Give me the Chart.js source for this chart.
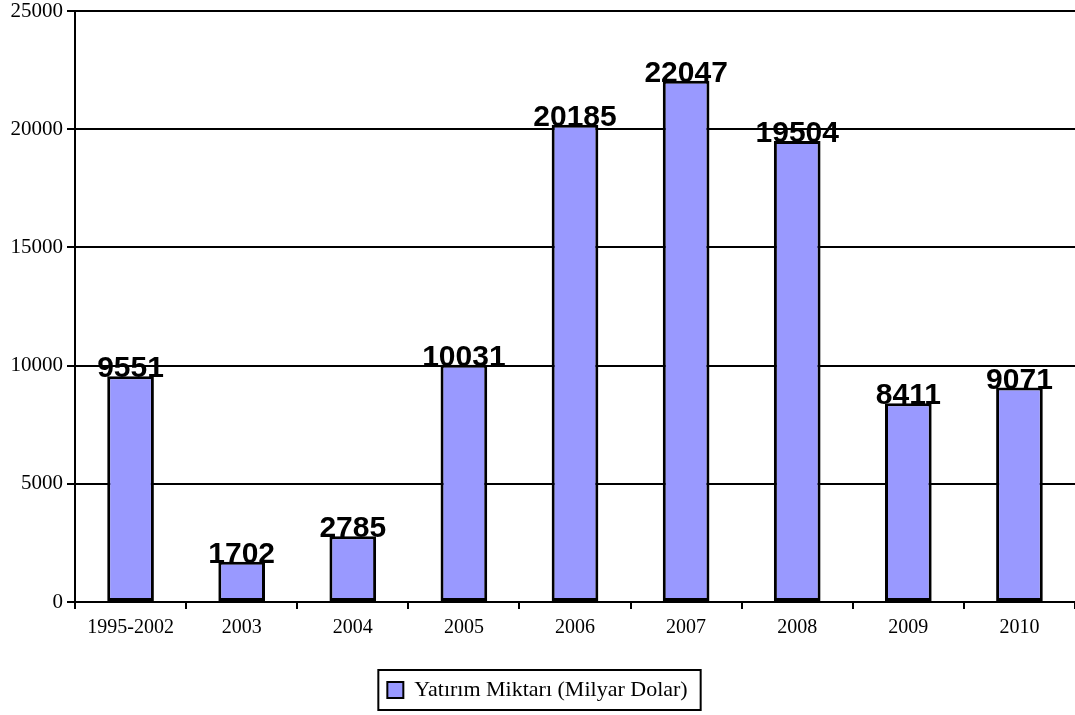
<!DOCTYPE html>
<html lang="tr">
	<head>
		<meta charset="utf-8" />
		<title>Yatırım Miktarı</title>
		<script src="https://cdn.jsdelivr.net/npm/chart.js@4"></script>
		<style>
			html, body { margin: 0; padding: 0; background: #fff; }
			#wrap { width: 1075px; height: 715px; }
		</style>
	</head>
	<body>
		<div id="wrap"><canvas id="chart"></canvas></div>
		<script>
			const years = ["1995-2002", "2003", "2004", "2005", "2006", "2007", "2008", "2009", "2010"];
			const amounts = [9551, 1702, 2785, 10031, 20185, 22047, 19504, 8411, 9071];
			const seriesName = "Yatırım Miktarı (Milyar Dolar)";

			// value labels on top of each bar
			const barLabels = {
				id: "barLabels",
				afterDatasetsDraw(chart) {
					const ctx = chart.ctx;
					const meta = chart.getDatasetMeta(0);
					ctx.save();
					ctx.font = "bold 30px 'Liberation Sans', Arial, sans-serif";
					ctx.fillStyle = "#000";
					ctx.textAlign = "center";
					ctx.textBaseline = "alphabetic";
					meta.data.forEach((bar, i) => {
						ctx.fillText(String(amounts[i]), bar.x, bar.y + 1);
					});
					ctx.restore();
				},
			};

			// box around the legend
			const legendBox = {
				id: "legendBox",
				afterDraw(chart) {
					const hb = chart.legend.legendHitBoxes[0];
					if (!hb) return;
					const ctx = chart.ctx;
					ctx.save();
					ctx.strokeStyle = "#000";
					ctx.lineWidth = 2;
					ctx.strokeRect(hb.left - 9, hb.top - 9, hb.width + 22, hb.height + 18);
					ctx.restore();
				},
			};

			new Chart(document.getElementById("chart"), {
				type: "bar",
				data: {
					labels: years,
					datasets: [
						{
							label: seriesName,
							data: amounts,
							backgroundColor: "#9999FF",
							borderColor: "#000",
							borderWidth: 3,
							borderSkipped: false,
							barPercentage: 0.42,
							categoryPercentage: 1,
						},
					],
				},
				options: {
					responsive: true,
					maintainAspectRatio: false,
					animation: false,
					layout: { padding: { top: 11, right: 0, bottom: 4, left: 0 } },
					plugins: {
						tooltip: { enabled: false },
						legend: {
							position: "bottom",
							labels: {
								color: "#000",
								font: { family: "'Liberation Serif', 'Times New Roman', serif", size: 22 },
								boxWidth: 16,
								boxHeight: 16,
								padding: 12,
								generateLabels: () => [
									{
										text: seriesName,
										fillStyle: "#9999FF",
										strokeStyle: "#000",
										lineWidth: 2,
										datasetIndex: 0,
									},
								],
							},
						},
					},
					scales: {
						x: {
							grid: {
								drawOnChartArea: false,
								color: "#000",
								lineWidth: 2,
								tickLength: 7,
							},
							border: { color: "#000", width: 2 },
							ticks: {
								color: "#000",
								font: { family: "'Liberation Serif', 'Times New Roman', serif", size: 20 },
								padding: 7,
								maxRotation: 0,
							},
							afterFit(scale) {
								scale.height = 65;
							},
						},
						y: {
							min: 0,
							max: 25000,
							ticks: {
								stepSize: 5000,
								color: "#000",
								font: { family: "'Liberation Serif', 'Times New Roman', serif", size: 21 },
								padding: 4,
								callback: (v) => String(v),
							},
							grid: { color: "#000", lineWidth: 2, tickLength: 8 },
							border: { color: "#000", width: 2 },
							afterFit(scale) {
								scale.width = 75;
								scale.paddingTop = 0;
								scale.paddingBottom = 0;
							},
						},
					},
				},
				plugins: [barLabels, legendBox],
			});
		</script>
	</body>
</html>
